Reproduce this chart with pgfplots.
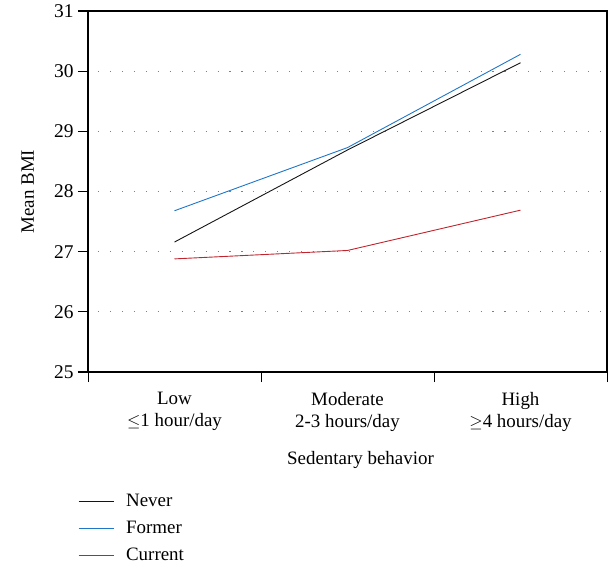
\documentclass[border=0pt]{standalone}
\usepackage{pgfplots}
\pgfplotsset{compat=1.18}
\usepackage{fontspec}
\setmainfont{Liberation Serif}
\definecolor{cnever}{RGB}{20,20,20}
\definecolor{cformer}{RGB}{30,118,200}
\definecolor{ccurrent}{RGB}{192,36,44}
\begin{document}
\begin{tikzpicture}
\useasboundingbox (-88bp,-197bp) rectangle (522bp,372bp);
\begin{axis}[
    at={(0,0)}, anchor=south west,
    width=519bp, height=361bp,
    scale only axis,
    clip=false,
    xmin=0, xmax=3, ymin=25, ymax=31,
    xtick={0,1,2,3},
    xticklabels={{Low\\$\leq$1 hour/day},{Moderate\\2-3 hours/day},{High\\$\geq$4 hours/day}},
    x tick label as interval,
    x tick label style={align=center, font=\fontsize{19}{22}\selectfont, yshift=-7bp},
    ytick={25,26,...,31},
    y tick label style={font=\fontsize{19.5}{22}\selectfont, xshift=-1bp},
    /pgf/number format/assume math mode=true,
    xtick pos=bottom, ytick pos=left,
    tick align=outside,
    major tick length=10bp,
    xtick style={solid, draw=black, line width=1pt},
    ytick style={solid, draw=black, line width=1.1pt},
    axis line style={line width=1.3pt},
    xlabel={Sedentary behavior},
    ylabel={Mean BMI},
    label style={font=\fontsize{19}{22}\selectfont},
    xlabel style={at={(axis description cs:0.525,-0.244)}, anchor=center},
    ylabel style={at={(axis description cs:-0.116,0.5)}, anchor=center},
    legend style={draw=none, at={(axis description cs:-0.025,-0.33)}, anchor=north west,
        font=\fontsize{19}{22}\selectfont, row sep=10bp,
        nodes={inner sep=0pt, text height=13bp, text depth=4bp},
        legend cell align=left},
    legend image code/.code={\draw[#1] (0bp,0bp) -- (35bp,0bp); \path (47bp,0bp);},
]
% dotted guide lines and the outside tick marks on the y axis
\pgfplotsinvokeforeach{26,27,28,29,30}{
  \draw[gray, line width=1.1pt, dash pattern=on 1.1pt off 10.9pt, dash phase=-10pt]
    (axis cs:0,#1) -- (axis cs:3,#1);
  \draw[black, line width=1.1pt] (axis cs:0,#1) -- ++(-10bp,0bp);
}
\addplot[cnever, line width=0.9pt] coordinates {(0.5,27.16) (1.5,28.69) (2.5,30.14)};
\addlegendentry{Never}
\addplot[cformer, line width=0.9pt] coordinates {(0.5,27.68) (1.5,28.73) (2.5,30.28)};
\addlegendentry{Former}
\addplot[ccurrent, line width=0.9pt] coordinates {(0.5,26.88) (1.5,27.02) (2.5,27.69)};
\addlegendentry{Current}
\end{axis}
\end{tikzpicture}
\end{document}
